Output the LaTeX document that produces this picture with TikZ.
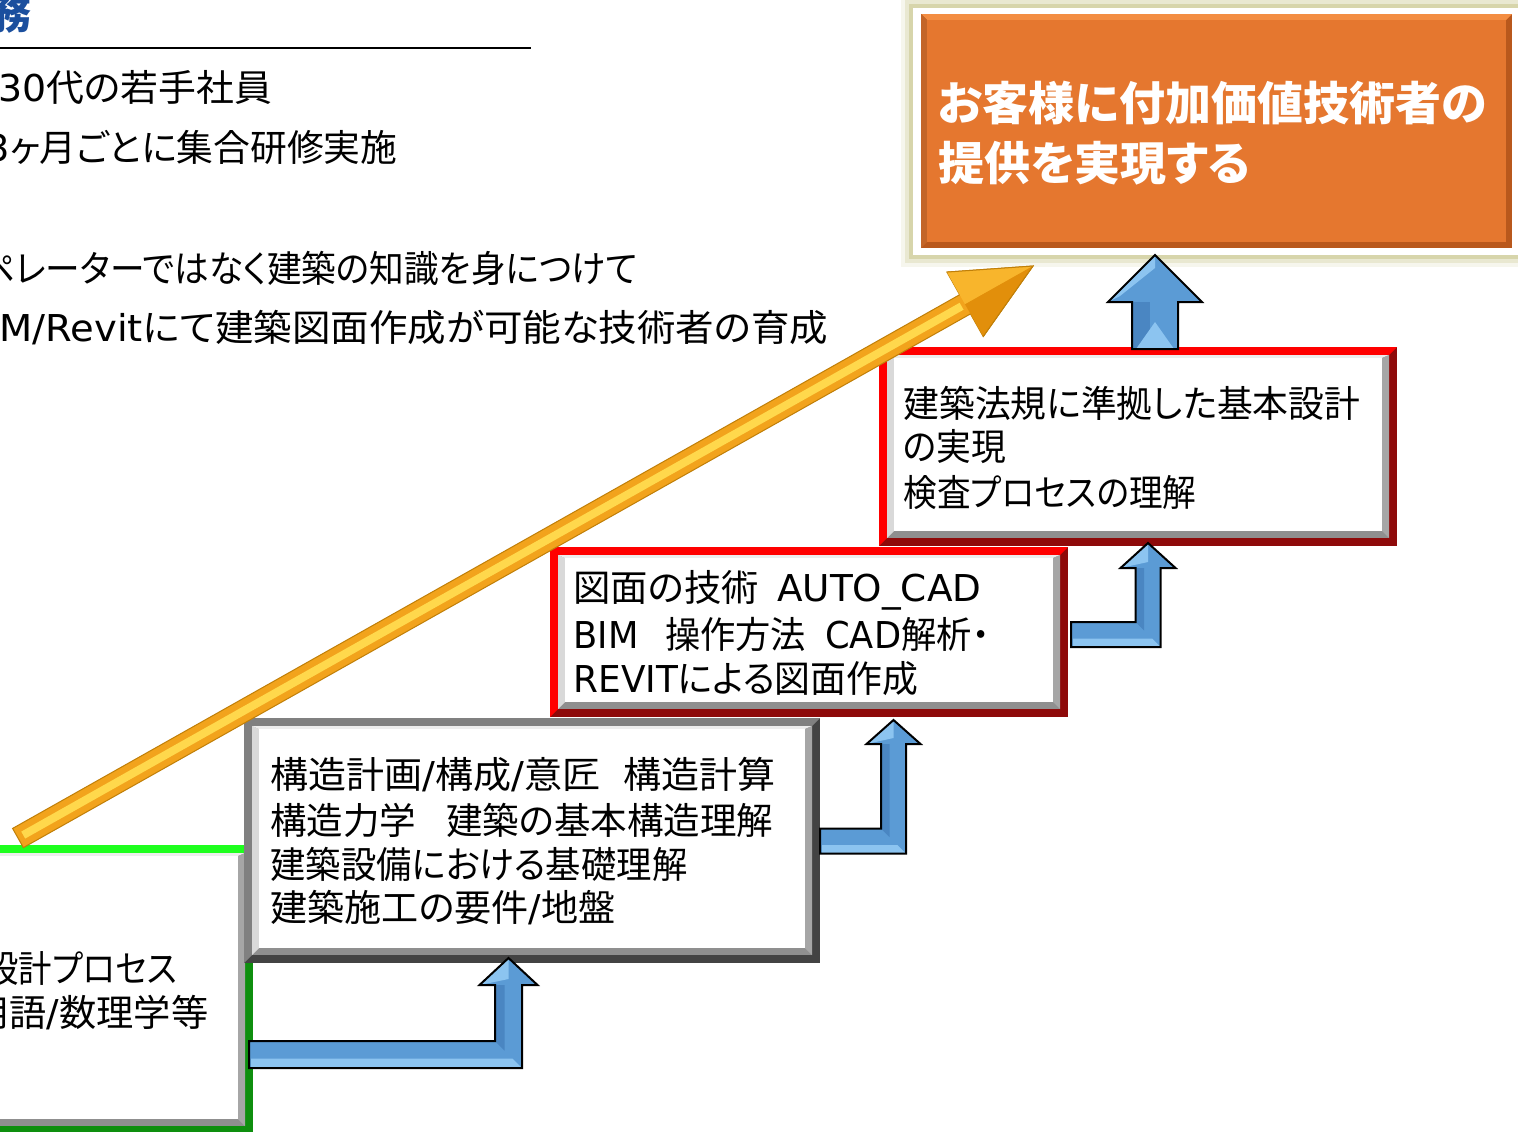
\documentclass[tikz,border=0pt]{standalone}
\usepackage{fontspec}
\usepackage{graphicx}
\setmainfont{Noto Sans CJK JP}[RawFeature=+palt]
\newfontfamily\lat{DejaVu Sans}
\usetikzlibrary{calc}
\definecolor{orgfill}{HTML}{E5772F}
\definecolor{orglight}{HTML}{F38D42}
\definecolor{orgdark}{HTML}{B9581C}
\definecolor{glow}{HTML}{BDBA72}
\definecolor{redlight}{HTML}{FF0000}
\definecolor{reddark}{HTML}{8E0A0A}
\definecolor{greylight}{HTML}{808080}
\definecolor{greydark}{HTML}{434343}
\definecolor{greenlight}{HTML}{1EFF1E}
\definecolor{greendark}{HTML}{0E8F0E}
\definecolor{arrowblue}{HTML}{5B9BD5}
\definecolor{arrowhi}{HTML}{8CC4F0}
\definecolor{arrowlo}{HTML}{4A86C2}
\definecolor{goldfill}{HTML}{F2A31C}
\definecolor{goldlight}{HTML}{FFD84C}
\definecolor{golddark}{HTML}{C07F08}
\definecolor{goldface}{HTML}{F8B52C}
\definecolor{goldshade}{HTML}{E28F0B}
\definecolor{headblue}{HTML}{1B4F9E}
\definecolor{bevbot}{HTML}{8F8F8F}
\definecolor{bevleft}{HTML}{D9D9D9}
\definecolor{bevtop}{HTML}{EDEDED}
\definecolor{bevright}{HTML}{A6A6A6}

\newdimen\pxu \pxu=0.5pt
% fit a line of text to a width given in pixels, keeping its height
\newcommand\fw[2]{\resizebox{#1\pxu}{\height}{#2}}

\newcommand\bevbox[6]{%
 \fill[#6] (#1,#2) rectangle (#3,#4);
 \fill[#5] (#1,#2) -- (#3,#2) -- ({#3-8},{#2+8}) -- ({#1+8},{#4-8}) -- (#1,#4) -- cycle;
 \fill[bevbot] ({#1+8},{#2+8}) rectangle ({#3-8},{#4-8});
 \fill[bevleft] ({#1+8},{#2+8}) -- ({#1+15},{#2+11}) -- ({#1+15},{#4-15}) -- ({#1+8},{#4-8}) -- cycle;
 \fill[bevtop] ({#1+8},{#2+8}) -- ({#3-8},{#2+8}) -- ({#3-15},{#2+11}) -- ({#1+15},{#2+11}) -- cycle;
 \fill[bevright] ({#3-8},{#2+8}) -- ({#3-8},{#4-8}) -- ({#3-15},{#4-15}) -- ({#3-15},{#2+11}) -- cycle;
 \fill[white] ({#1+15},{#2+11}) rectangle ({#3-15},{#4-15});
}
% xs yh xv yt w hw hl
\newcommand\bentarrow[7]{%
 \fill[arrowblue] (#1,{#2-#5}) -- ({#3-#5},{#2-#5}) -- ({#3-#5},{#4+#7}) -- ({#3-#6},{#4+#7}) -- (#3,#4) -- ({#3+#6},{#4+#7}) -- ({#3+#5},{#4+#7}) -- ({#3+#5},{#2+#5}) -- (#1,{#2+#5}) -- cycle;
 \fill[arrowhi] ({#1+2},{#2+4}) -- ({#3+4},{#2+4}) -- ({#3+#5},{#2+#5}) -- ({#1+2},{#2+#5}) -- cycle;
 \fill[arrowlo] ({#3-#5},{#4+#7}) -- ({#3-4},{#4+#7}) -- ({#3-4},{#2-4}) -- ({#3-#5},{#2-#5}) -- cycle;
 \fill[arrowhi] ({#3-#6},{#4+#7}) -- (#3,#4) -- ({#3},{#4+#7-6}) -- cycle;
 \draw[blu] (#1,{#2-#5}) -- ({#3-#5},{#2-#5}) -- ({#3-#5},{#4+#7}) -- ({#3-#6},{#4+#7}) -- (#3,#4) -- ({#3+#6},{#4+#7}) -- ({#3+#5},{#4+#7}) -- ({#3+#5},{#2+#5}) -- (#1,{#2+#5}) -- cycle;
}

\tikzset{
 txt/.style={anchor=west, inner sep=0pt, font=\fontsize{18.5}{22}\selectfont, text=black},
 ttl/.style={anchor=west, inner sep=0pt, font=\bfseries\fontsize{23}{28}\selectfont, text=white},
 blu/.style={draw=black, line width=1pt, line join=miter},
}

\begin{document}
\begin{tikzpicture}[x=0.5pt,y=-0.5pt]
\useasboundingbox (0,0) rectangle (1518,1131);
\fill[white] (0,0) rectangle (1518,1131);

% heading fragment and rule
\node[anchor=west, inner sep=0pt, font=\bfseries\fontsize{20}{24}\selectfont, text=headblue] (hd) at (-9,14) {務};
\draw[black, line width=0.7pt] (0,48) -- (531,48);

% left text lines
\node[txt] (t1) at (-2,87) {\fw{274}{{\lat 30}代の若手社員}};
\node[txt] (t2) at (-14,147) {\fw{411}{{\lat 3}ヶ月ごとに集合研修実施}};
\node[txt] (t3) at (-20,268) {\fw{657}{ペレーターではなく建築の知識を身につけて}};
\node[txt] (t4) at (-1,328) {\fw{829}{{\lat M/Revit}にて建築図面作成が可能な技術者の育成}};

% boxes
\bevbox{-30}{845}{253}{1134}{greenlight}{greendark}
\bevbox{244}{718}{820}{963}{greylight}{greydark}
\bevbox{550}{547}{1068}{717}{redlight}{reddark}
\bevbox{879}{347}{1397}{546}{redlight}{reddark}

% orange goal box
\fill[glow, opacity=0.12] (901,-4) rectangle (1530,267);
\fill[glow, opacity=0.22] (905,0) rectangle (1530,263);
\fill[glow, opacity=0.4] (909,4) rectangle (1530,259);
\fill[white] (913,8) rectangle (1530,255);
\fill[orgdark] (921,14) rectangle (1512,248);
\fill[orglight] (921,14) -- (1512,14) -- (1506,20) -- (927,20) -- cycle;
\fill[orgfill!85!black] (921,14) -- (927,20) -- (927,242) -- (921,248) -- cycle;
\fill[orgfill] (927,20) rectangle (1506,242);

% texts in boxes
\node[txt] (b4a) at (903,403) {\fw{457}{建築法規に準拠した基本設計}};
\node[txt] (b4b) at (903,447) {\fw{103}{の実現}};
\node[txt] (b4c) at (903,492) {\fw{293}{検査プロセスの理解}};

\node[txt] (b3a) at (573,590) {\fw{408}{図面の技術\hspace{9pt}{\lat AUTO\_CAD}}};
\node[txt] (b3b) at (573,634) {\fw{416}{{\lat BIM}\hspace{14pt}操作方法\hspace{10pt}{\lat CAD}解析・}};
\node[txt] (b3c) at (573,679) {\fw{345}{{\lat REVIT}による図面作成}};

\node[txt] (b2a) at (270,775) {\fw{505}{構造計画{\lat /}構成{\lat /}意匠\hspace{11pt}構造計算}};
\node[txt] (b2b) at (270,820) {\fw{503}{構造力学\hspace{15pt}建築の基本構造理解}};
\node[txt] (b2c) at (270,864) {\fw{417}{建築設備における基礎理解}};
\node[txt] (b2d) at (270,908) {\fw{345}{建築施工の要件{\lat /}地盤}};

\node[txt] (b1a) at (-15,968) {\fw{192}{設計プロセス}};
\node[txt] (b1b) at (-28,1013) {\fw{236}{用語{\lat /}数理学等}};

\node[ttl] (goal1) at (938,103) {お客様に付加価値技術者の};
\node[ttl] (goal2) at (938,163) {提供を実現する};

% blue arrows
\bentarrow{249}{1054.5}{508.5}{958}{13.5}{29}{27}
\bentarrow{820}{841}{893.5}{720}{12.5}{27}{24}
\bentarrow{1071}{634.5}{1148}{543}{12.5}{27.5}{25}
\fill[arrowblue] (1132,349) -- (1132,302) -- (1108,302) -- (1155,255) -- (1202,302) -- (1178,302) -- (1178,349) -- cycle;
\fill[arrowlo] (1132,349) -- (1132,302) -- (1150,302) -- (1150,349) -- cycle;
\fill[arrowhi] (1136,349) -- (1155,322) -- (1174,349) -- cycle;
\fill[arrowhi] (1108,302) -- (1155,255) -- (1155,268) -- (1120,296) -- cycle;
\draw[blu] (1132,349) -- (1132,302) -- (1108,302) -- (1155,255) -- (1202,302) -- (1178,302) -- (1178,349) -- cycle;

% gold arrow
\coordinate (gT) at (18,838);
\coordinate (gP) at (1033,266);
\coordinate (gM) at ($(gP)!39pt!(gT)$);
\fill[goldfill, draw=golddark, line width=0.5pt, line join=miter]
  ($(gT)!5.5pt!90:(gP)$) -- ($(gM)!5.5pt!-90:(gT)$) -- ($(gM)!18.5pt!-90:(gT)$) -- (gP)
  -- ($(gM)!18.5pt!90:(gT)$) -- ($(gM)!5.5pt!90:(gT)$) -- ($(gT)!5.5pt!-90:(gP)$) -- cycle;
\draw[goldlight, line width=4pt] ($(gT)!3pt!(gP)$) -- ($(gM)!2pt!(gT)$);
\fill[goldface] ($(gM)!18.5pt!-90:(gT)$) -- (gP) -- (gM) -- cycle;
\fill[goldshade] ($(gM)!18.5pt!90:(gT)$) -- (gP) -- (gM) -- cycle;
\draw[golddark, line width=0.5pt, line join=miter] ($(gM)!18.5pt!-90:(gT)$) -- (gP) -- ($(gM)!18.5pt!90:(gT)$);
\end{tikzpicture}
\end{document}
